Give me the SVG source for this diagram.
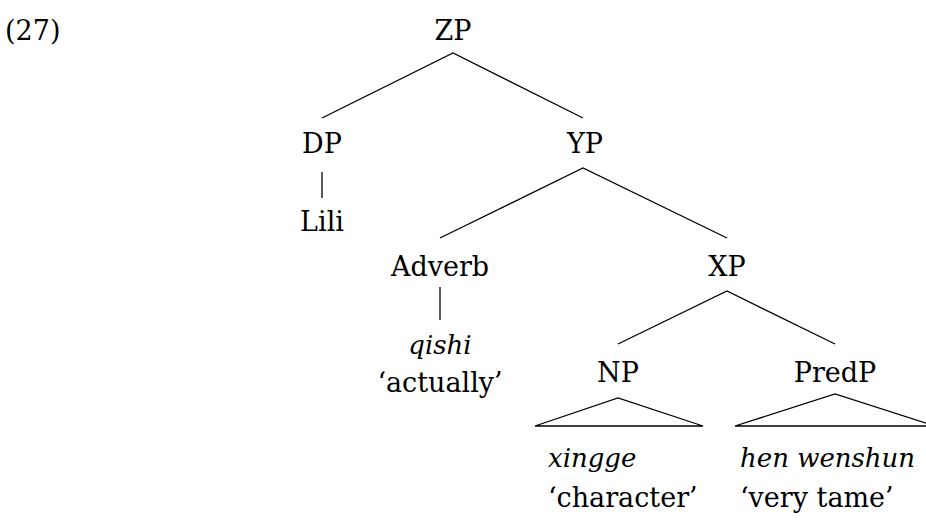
<svg xmlns="http://www.w3.org/2000/svg" width="926" height="520" viewBox="0 0 926 520" font-family="DejaVu Serif, serif" font-size="27">
<style>
.c{text-anchor:middle}
.i{font-style:italic;font-size:26px}
.e{stroke:#000;stroke-width:1.3;fill:none}
</style>
<rect width="926" height="520" fill="#fff"/>
<text x="5" y="40">(27)</text>
<g id="ZP"><text class="c" x="453" y="40">ZP</text></g>
<g id="DP"><text class="c" x="322" y="153">DP</text></g>
<g id="Lili"><text class="c" x="322" y="231">Lili</text></g>
<g id="YP"><text class="c" x="585" y="153">YP</text></g>
<g id="Adverb"><text class="c" x="440" y="276">Adverb</text></g>
<g id="qishi"><text class="c i" x="440" y="354">qishi</text><text class="c" x="440" y="392">‘actually’</text></g>
<g id="XP"><text class="c" x="727" y="276">XP</text></g>
<g id="NP"><text class="c" x="618" y="382">NP</text></g>
<g id="PredP"><text class="c" x="835" y="382">PredP</text></g>
<g id="xingge"><text class="i" x="548" y="467">xingge</text><text x="548" y="507">‘character’</text></g>
<g id="henwenshun"><text class="i" x="740" y="467">hen wenshun</text><text x="740" y="507">‘very tame’</text></g>
<g id="connectors">
<polyline class="e" points="322,118 453,53 583,118"/>
<line class="e" x1="322" y1="172" x2="322" y2="198"/>
<polyline class="e" points="440,238 583,168 727,238"/>
<line class="e" x1="440" y1="287" x2="440" y2="320"/>
<polyline class="e" points="618,344 727,291 835,344"/>
<polygon class="e" points="535,426 618,398 703,426"/>
<polygon class="e" points="735,426 835,394 935,426"/>
</g>
</svg>
